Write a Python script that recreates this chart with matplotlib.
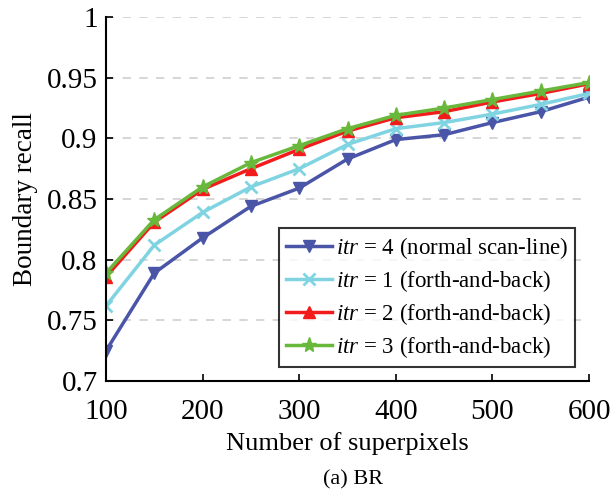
import matplotlib
matplotlib.use("Agg")
import matplotlib.pyplot as plt

plt.rcParams['font.family'] = ['Liberation Serif']
plt.rcParams['mathtext.fontset'] = 'custom'
plt.rcParams['mathtext.it'] = 'Liberation Serif:italic'
plt.rcParams['mathtext.rm'] = 'Liberation Serif'

# data
superpixels = [100, 150, 200, 250, 300, 350, 400, 450, 500, 550, 600]
br_itr4 = [0.725, 0.789, 0.818, 0.844, 0.859, 0.883, 0.899, 0.903, 0.913, 0.922, 0.934]
br_itr1 = [0.762, 0.812, 0.839, 0.860, 0.875, 0.895, 0.908, 0.913, 0.920, 0.928, 0.937]
br_itr2 = [0.786, 0.831, 0.858, 0.875, 0.891, 0.906, 0.917, 0.922, 0.930, 0.937, 0.945]
br_itr3 = [0.789, 0.833, 0.860, 0.880, 0.894, 0.908, 0.919, 0.925, 0.932, 0.939, 0.946]

labels = [r'$itr$ = 4 (normal scan-line)',
          r'$itr$ = 1 (forth-and-back)',
          r'$itr$ = 2 (forth-and-back)',
          r'$itr$ = 3 (forth-and-back)']
colors = ['#4a55a8', '#80d4e2', '#f21c1c', '#68b83c']
markers = ['v', 'x', '^', '*']

fig = plt.figure(figsize=(6.11, 4.93), dpi=100)
ax = fig.add_axes([0.1735, 0.227, 0.7905, 0.7385])

series = [br_itr4, br_itr1, br_itr2, br_itr3]
for ys, c, m, lab in zip(series, colors, markers, labels):
    ms = 11 if m == '*' else 9
    ax.plot(superpixels, ys, color=c, marker=m, markersize=ms, linewidth=2.5,
            markeredgewidth=2 if m == 'x' else 1, label=lab)

ax.set_xlim(100, 600)
ax.set_ylim(0.7, 1.0)
ax.set_xticks([100, 200, 300, 400, 500, 600])
ax.set_yticks([0.7, 0.75, 0.8, 0.85, 0.9, 0.95, 1.0])
ax.set_yticklabels(['0.7', '0.75', '0.8', '0.85', '0.9', '0.95', '1'])
ax.tick_params(direction='in', length=5, width=1.2, labelsize=21, pad=6)
ax.tick_params(axis='x', pad=13)
ax.spines['top'].set_visible(False)
ax.spines['right'].set_visible(False)
ax.spines['left'].set_linewidth(1.5)
ax.spines['bottom'].set_linewidth(1.5)
ax.yaxis.grid(True, linestyle=(0, (5, 5)), color='#d0d0d0', linewidth=1.2)
ax.set_axisbelow(True)

ax.set_xlabel('Number of superpixels', fontsize=19, labelpad=5)
ax.set_ylabel('Boundary recall', fontsize=19.5, labelpad=6)

leg = ax.legend(loc='lower right', fontsize=16.5, frameon=True, fancybox=False,
                edgecolor='black', handlelength=2.0, handletextpad=0.2,
                borderpad=0.3, labelspacing=0.3, borderaxespad=0,
                bbox_to_anchor=(0.972, 0.04))
leg.get_frame().set_linewidth(1.5)

fig.text(0.578, 0.026, '(a) BR', ha='center', va='center', fontsize=16)

fig.savefig('out.png', dpi=100)
